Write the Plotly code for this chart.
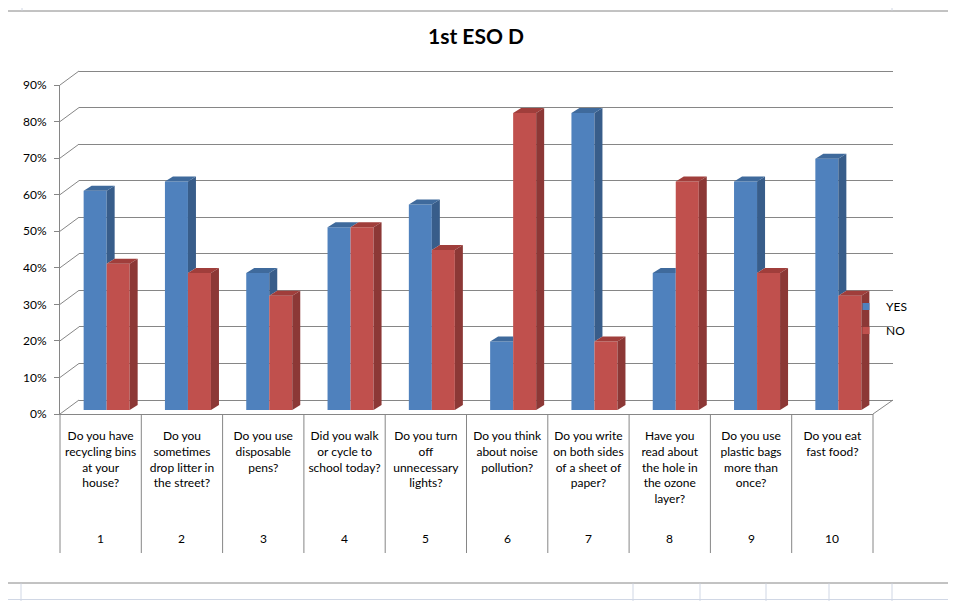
import plotly.graph_objects as go

# ---------------- data ----------------
title_text = "1st ESO D"
category_numbers = ["1", "2", "3", "4", "5", "6", "7", "8", "9", "10"]
questions = [
    "Do you have<br>recycling bins<br>at your<br>house?",
    "Do you<br>sometimes<br>drop litter in<br>the street?",
    "Do you use<br>disposable<br>pens?",
    "Did you walk<br>or cycle to<br>school today?",
    "Do you turn<br>off<br>unnecessary<br>lights?",
    "Do you think<br>about noise<br>pollution?",
    "Do you write<br>on both sides<br>of a sheet of<br>paper?",
    "Have you<br>read about<br>the hole in<br>the ozone<br>layer?",
    "Do you use<br>plastic bags<br>more than<br>once?",
    "Do you eat<br>fast food?",
]
yes_values = [60, 62.5, 37.5, 50, 56.25, 18.75, 81.25, 37.5, 62.5, 68.75]
no_values = [40, 37.5, 31.25, 50, 43.75, 81.25, 18.75, 62.5, 37.5, 31.25]
series_names = ["YES", "NO"]
y_ticks = [0, 10, 20, 30, 40, 50, 60, 70, 80, 90]
y_ticklabels = ["0%", "10%", "20%", "30%", "40%", "50%", "60%", "70%", "80%", "90%"]

# ---------------- styling / geometry ----------------
W, H = 956, 601
OFF = 8                                     # page body margin compensation
PAD = 3                                     # extra room so edge gridlines are drawn
PL, PR = 60 - OFF, 893 - OFF
PT, PB = 71 - OFF - PAD, 414 - OFF
FRONT_R = 873 - OFF                         # right end of front floor edge
FRONT_H = 414 - 85                          # px between 0% and 90% on the front axis
DEPTH_X, DEPTH_Y = 19, 14                   # 3-D wall offset (px)
BAR_LIFT = 4                                # bars base above front edge (px)
BAR_SHIFT = 6                               # bars shifted right (px)
FACE_DX, FACE_DY = 8, 5                     # bar depth (px)
YMAX = 90
FONT = "Lato, 'Open Sans', sans-serif"
GRID = "#868686"

BLUE, BLUE_SIDE, BLUE_TOP = "#4F81BD", "#385D8A", "#3F6A9C"
RED, RED_SIDE, RED_TOP = "#C0504D", "#8C3836", "#A03E3B"

pw, ph = PR - PL, PB - PT
ppu = FRONT_H / YMAX                        # px per percent
n = len(category_numbers)
slot_px = (FRONT_R - PL) / n

def px_x(p):  # reference pixel -> paper
    return (p - OFF - PL) / pw

def px_y(p):
    return (PB - (p - OFF)) / ph

idx = list(range(n))
bargap = 0.434
w = (1 - bargap) / 2
dx = FACE_DX / slot_px
dy = FACE_DY / ppu
shift = BAR_SHIFT / slot_px
lift = BAR_LIFT / ppu

# back wall axis: starts PAD px below 0% line, ends at top of plot region
wall_lo = DEPTH_Y - PAD
wall_range = [-PAD / ppu, (ph - DEPTH_Y) / ppu]

fig = go.Figure()

fig.add_trace(go.Scatter(x=[None], y=[None], xaxis="x", yaxis="y", showlegend=False,
                         hoverinfo="skip", mode="lines"))

fig.add_trace(go.Bar(x=idx, y=yes_values, name="YES", marker=dict(color=BLUE, line=dict(width=0)),
                     xaxis="x3", yaxis="y3", showlegend=False, hoverinfo="skip"))
fig.add_trace(go.Bar(x=idx, y=no_values, name="NO", marker=dict(color=RED, line=dict(width=0)),
                     xaxis="x3", yaxis="y3", showlegend=False, hoverinfo="skip"))

bs_x, bs_y, bt_x, bt_y, rt_x, rt_y, rs_x, rs_y = [], [], [], [], [], [], [], []
for i, (b, r) in enumerate(zip(yes_values, no_values)):
    if b > r:
        bs_x += [i, i, i + dx, i + dx, i, None]
        bs_y += [r, b, b + dy, r + dy, r, None]
    rp = min(max(r, b), b + dy)
    bt_x += [i - w, i, i, i + dx * (rp - b) / dy, i + dx, i - w + dx, i - w, None]
    bt_y += [b, b, rp, rp, b + dy, b + dy, b, None]
    rt_x += [i, i + w, i + w + dx, i + dx, i, None]
    rt_y += [r, r, r + dy, r + dy, r, None]
    rs_x += [i + w, i + w, i + w + dx, i + w + dx, i + w, None]
    rs_y += [0, r, r + dy, dy, 0, None]

for xs, ys, col in [(bs_x, bs_y, BLUE_SIDE), (bt_x, bt_y, BLUE_TOP),
                    (rt_x, rt_y, RED_TOP), (rs_x, rs_y, RED_SIDE)]:
    fig.add_trace(go.Scatter(x=xs, y=ys, fill="toself", fillcolor=col, mode="lines",
                             line=dict(width=0, color=col), xaxis="x3", yaxis="y3",
                             showlegend=False, hoverinfo="skip"))

for name, col, grp in [(series_names[0], BLUE, "a"), (series_names[1], RED, "b")]:
    fig.add_trace(go.Scatter(x=[None], y=[None], mode="markers", name=name, legendgroup=grp,
                             marker=dict(symbol="square", size=7, color=col),
                             xaxis="x3", yaxis="y3"))

shapes = []
for v in y_ticks:
    yf = v * ppu / ph
    shapes.append(dict(type="line", xref="paper", yref="paper", x0=0, y0=yf,
                       x1=DEPTH_X / pw, y1=yf + DEPTH_Y / ph, line=dict(color=GRID, width=1)))
shapes.append(dict(type="line", xref="paper", yref="paper", x0=(FRONT_R - PL) / pw, y0=0,
                   x1=1, y1=DEPTH_Y / ph, line=dict(color=GRID, width=1)))
for k in range(n + 1):
    shapes.append(dict(type="line", xref="x2 domain", yref="paper", x0=k / n, x1=k / n,
                       y0=0, y1=px_y(553), line=dict(color=GRID, width=1)))
shapes.append(dict(type="rect", xref="paper", yref="paper", x0=px_x(1), x1=px_x(954),
                   y0=px_y(583), y1=px_y(11), line=dict(color=GRID, width=1)))
SHEET = "#d0d7e5"
for xx in [22, 892]:
    shapes.append(dict(type="line", xref="paper", yref="paper", x0=px_x(xx), x1=px_x(xx),
                       y0=px_y(0), y1=px_y(10.5), line=dict(color=SHEET, width=1)))
for xx in [21, 633, 700, 766, 829, 892]:
    shapes.append(dict(type="line", xref="paper", yref="paper", x0=px_x(xx), x1=px_x(xx),
                       y0=px_y(583.5), y1=px_y(601), line=dict(color=SHEET, width=1)))
shapes.append(dict(type="line", xref="paper", yref="paper", x0=px_x(0), x1=px_x(960),
                   y0=px_y(599.5), y1=px_y(599.5), line=dict(color=SHEET, width=1)))

annotations = []
for i, num in enumerate(category_numbers):
    annotations.append(dict(text=num, xref="x2", yref="paper", x=i, y=px_y(538),
                            showarrow=False, yanchor="middle", xanchor="center",
                            font=dict(family=FONT, size=12, color="#000000")))

fig.update_layout(
    width=W, height=H,
    margin=dict(l=PL, r=W - PR, t=PT, b=H - PB, autoexpand=False),
    paper_bgcolor="white", plot_bgcolor="rgba(0,0,0,0)",
    title=dict(text="<b>" + title_text + "</b>", x=(476 - OFF) / W, xref="container",
               xanchor="center", y=1 - (37 - OFF) / H, yref="container", yanchor="middle",
               font=dict(family=FONT, size=21, color="#000000")),
    barmode="group", bargap=bargap, bargroupgap=0,
    showlegend=True,
    legend=dict(x=px_x(846), xanchor="left", y=px_y(292), yanchor="top",
                font=dict(family=FONT, size=12, color="#000000"),
                bgcolor="rgba(0,0,0,0)", tracegroupgap=5, itemwidth=30),
    xaxis=dict(domain=[DEPTH_X / pw, 1], anchor="y", range=[0, 1], showgrid=False,
               zeroline=False, showticklabels=False, showline=False, ticks=""),
    yaxis=dict(domain=[wall_lo / ph, 1], anchor="x", range=wall_range,
               tickmode="array", tickvals=y_ticks,
               showgrid=True, gridcolor=GRID, gridwidth=1, zeroline=False,
               showticklabels=False, showline=False, ticks=""),
    xaxis2=dict(domain=[0, (FRONT_R - PL) / pw], anchor="y2", range=[-0.5, n - 0.5],
                tickmode="array", tickvals=idx, ticktext=questions, showgrid=False,
                zeroline=False, showline=True, linecolor=GRID, linewidth=1, ticks="",
                ticklabelstandoff=11,
                tickfont=dict(family=FONT, size=12, color="#000000")),
    yaxis2=dict(domain=[0, FRONT_H / ph], anchor="x2", range=[0, YMAX],
                tickmode="array", tickvals=y_ticks, ticktext=y_ticklabels, showgrid=False,
                zeroline=False, showline=True, linecolor=GRID, linewidth=1,
                ticks="outside", ticklen=5, tickcolor=GRID, ticklabelstandoff=5,
                tickfont=dict(family=FONT, size=12, color="#000000")),
    xaxis3=dict(overlaying="x2", range=[-0.5 - shift, n - 0.5 - shift], visible=False),
    yaxis3=dict(overlaying="y2", range=[-lift, YMAX - lift], visible=False),
    shapes=shapes,
    annotations=annotations,
)

fig.write_html("out.html")
